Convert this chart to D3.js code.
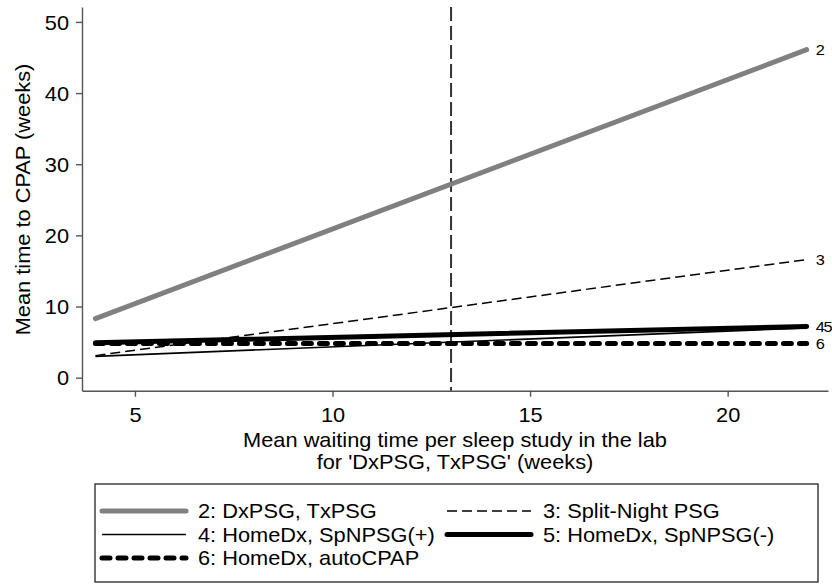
<!DOCTYPE html>
<html>
<head>
<meta charset="utf-8">
<script src="https://cdn.jsdelivr.net/npm/d3@7"></script>
<style>
  body { margin: 0; background: #fff; }
  svg { display: block; font-family: "Liberation Sans", Arial, Helvetica, sans-serif; }
</style>
</head>
<body>
<svg id="chart" width="832" height="584"></svg>
<script>
// ---- Data ----
const xValues = [4, 22];
const seriesNames = ["2: DxPSG, TxPSG", "3: Split-Night PSG", "4: HomeDx, SpNPSG(+)", "5: HomeDx, SpNPSG(-)", "6: HomeDx, autoCPAP"];
const endLabels = ["2", "3", "4", "5", "6"];
const s2 = [8.3, 46.1];
const s3 = [3.1, 16.6];
const s4 = [3.0, 7.0];
const s5 = [4.9, 7.2];
const s6 = [4.8, 4.8];
const refLineX = 13;
const xTicks = [5, 10, 15, 20];
const yTicks = [0, 10, 20, 30, 40, 50];
const xTitle = ["Mean waiting time per sleep study in the lab", "for 'DxPSG, TxPSG' (weeks)"];
const yTitle = "Mean time to CPAP (weeks)";

const SX = 1.09; // horizontal text stretch
const styles = [
  { color: "#808080", width: 5, dash: null, cap: "round" },
  { color: "#000", width: 1.5, dash: "10,5", cap: "butt" },
  { color: "#000", width: 1.6, dash: null, cap: "butt" },
  { color: "#000", width: 5, dash: null, cap: "round" },
  { color: "#000", width: 5, dash: "8,8", cap: "round" }
];
const allSeries = [s2, s3, s4, s5, s6];

const svg = d3.select("#chart");
const x = d3.scaleLinear().domain([3.66, 22.54]).range([82, 828]);
const y = d3.scaleLinear().domain([-1.83, 52.1]).range([390.7, 7]);

const axisColor = "#555";

function addText(parent, tx, ty, txt, size, anchor, extra) {
  const g = parent.append("g").attr("transform", `translate(${tx},${ty})${extra || ""} scale(${SX},1)`);
  return g.append("text").attr("text-anchor", anchor || "start").attr("font-size", size).attr("fill", "#000").text(txt);
}

// Y axis
const gy = svg.append("g").attr("transform", "translate(82,0)")
  .call(d3.axisLeft(y).tickValues(yTicks).tickSize(6).tickPadding(7).tickSizeOuter(0));
gy.select(".domain").attr("stroke", axisColor).attr("stroke-width", 1.4);
gy.selectAll(".tick line").attr("stroke", axisColor).attr("stroke-width", 1.4);
gy.selectAll(".tick text").attr("font-size", 20).attr("fill", "#000")
  .attr("font-family", "Liberation Sans, Arial, sans-serif")
  .attr("x", -13 / SX).attr("dy", "0.36em")
  .attr("transform", `scale(${SX},1)`);

// X axis
const gx = svg.append("g").attr("transform", "translate(0,390.7)")
  .call(d3.axisBottom(x).tickValues(xTicks).tickSize(6).tickPadding(11).tickSizeOuter(0));
gx.select(".domain").attr("stroke", axisColor).attr("stroke-width", 1.4);
gx.selectAll(".tick line").attr("stroke", axisColor).attr("stroke-width", 1.4);
gx.selectAll(".tick text").attr("font-size", 20).attr("fill", "#000")
  .attr("font-family", "Liberation Sans, Arial, sans-serif")
  .attr("transform", `scale(${SX},1)`);

// Reference line
svg.append("line")
  .attr("x1", x(refLineX)).attr("x2", x(refLineX))
  .attr("y1", y.range()[1]).attr("y2", y.range()[0])
  .attr("stroke", "#333").attr("stroke-width", 2).attr("stroke-dasharray", "14,5");

// Lines (drawn in series order)
const line = d3.line().x(d => x(d[0])).y(d => y(d[1]));
allSeries.forEach((vals, i) => {
  const pts = xValues.map((xv, j) => [xv, vals[j]]);
  const st = styles[i];
  svg.append("path").datum(pts)
    .attr("d", line)
    .attr("fill", "none")
    .attr("stroke", st.color)
    .attr("stroke-width", st.width)
    .attr("stroke-linecap", st.cap)
    .attr("stroke-dasharray", st.dash);
});

// End labels
const lastX = xValues[xValues.length - 1];
const lx = x(lastX) + 9;
addText(svg, lx, y(s2[1]), endLabels[0], 15).attr("dy", "0.36em");
addText(svg, lx, y(s3[1]), endLabels[1], 15).attr("dy", "0.36em");
addText(svg, lx, y(s5[1]), endLabels[2] + endLabels[3], 15).attr("dy", "0.36em").attr("letter-spacing", -1.2);
addText(svg, lx, y(s6[1]), endLabels[4], 15).attr("dy", "0.36em");

// Axis titles
addText(svg, 29.5, 199.5, yTitle, 20, "middle", " rotate(-90)");
addText(svg, 455, 447, xTitle[0], 20, "middle");
addText(svg, 455, 469, xTitle[1], 20, "middle");

// Legend
const lg = svg.append("g");
lg.append("rect").attr("x", 95).attr("y", 484).attr("width", 723).attr("height", 98)
  .attr("fill", "none").attr("stroke", "#333").attr("stroke-width", 1.4);
const colX = [100, 445];
const rowY = [511, 534.5, 558];
seriesNames.forEach((name, i) => {
  const c = i % 2, r = Math.floor(i / 2);
  const st = styles[i];
  const sx = colX[c];
  lg.append("line")
    .attr("x1", sx + 2).attr("x2", sx + 86)
    .attr("y1", rowY[r]).attr("y2", rowY[r])
    .attr("stroke", st.color).attr("stroke-width", st.width)
    .attr("stroke-linecap", st.cap).attr("stroke-dasharray", st.dash);
  addText(lg, sx + 98, rowY[r], name, 20).attr("dy", "0.36em");
});
</script>
</body>
</html>
